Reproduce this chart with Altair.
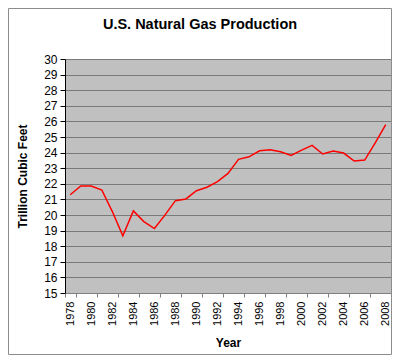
import altair as alt
import pandas as pd

years = list(range(1978, 2009))
production = [21.3, 21.86, 21.86, 21.6, 20.22, 18.66, 20.26, 19.58, 19.13, 19.99,
              20.92, 21.03, 21.56, 21.78, 22.14, 22.67, 23.57, 23.73, 24.12, 24.18,
              24.05, 23.82, 24.16, 24.46, 23.91, 24.10, 23.97, 23.46, 23.52, 24.63, 25.8]
y_ticks = list(range(15, 31))
x_label_years = [str(y) for y in range(1978, 2009, 2)]

df = pd.DataFrame({"Year": [str(y) for y in years], "Production": production})

FONT = "Liberation Sans"
W, H = 326, 234
PAD = {"left": 57, "top": 51, "right": 1, "bottom": 62}

line = alt.Chart(df).mark_line(color="#FF0000", strokeWidth=1.5).encode(
    x=alt.X("Year:O",
            scale=alt.Scale(paddingInner=0, paddingOuter=0),
            axis=alt.Axis(values=x_label_years, labelAngle=-90, labelFontSize=11,
                          labelFont=FONT, labelColor="#000000", labelPadding=4,
                          tickBand="extent", tickSize=4, tickColor="#808080",
                          domainColor="#808080", grid=False,
                          title="Year", titleFont=FONT, titleFontSize=12,
                          titleFontWeight="bold", titleColor="#000000",
                          titleBaseline="alphabetic", titleY=53)),
    y=alt.Y("Production:Q",
            scale=alt.Scale(domain=[15, 30], nice=False, zero=False),
            axis=alt.Axis(values=y_ticks, labelFontSize=12, labelFont=FONT,
                          labelColor="#000000", labelPadding=3,
                          tickSize=5, tickColor="#000000", domainColor="#000000",
                          grid=True, gridColor="#7a7a7a", gridWidth=1,
                          title="Trillion Cubic Feet", titleFont=FONT,
                          titleFontSize=12, titleFontWeight="bold",
                          titleColor="#000000", titleAngle=-90,
                          titleBaseline="alphabetic", titleAlign="center",
                          titleX=-39, titleY=117)),
)

frame = alt.Chart(alt.Data(values=[{}])).mark_rect(
    fill=None, stroke="#8c8c8c", strokeWidth=1
).encode(
    x=alt.value(-PAD["left"] + 0.5), x2=alt.value(W + PAD["right"] - 0.5),
    y=alt.value(-PAD["top"] + 0.5), y2=alt.value(H + PAD["bottom"] - 0.5),
)

chart = alt.layer(line, frame).properties(
    width=W, height=H,
    autosize=alt.AutoSizeParams(type="none"),
    padding=PAD,
    background="#FFFFFF",
    title=alt.TitleParams("U.S. Natural Gas Production", font=FONT, fontSize=14.5,
                          fontWeight="bold", color="#000000", anchor="middle",
                          frame="group", offset=-35, baseline="alphabetic", dx=-28),
).configure_view(fill="#C0C0C0", stroke=None)

chart.save("out.html", embed_options={"renderer": "svg", "actions": False})
